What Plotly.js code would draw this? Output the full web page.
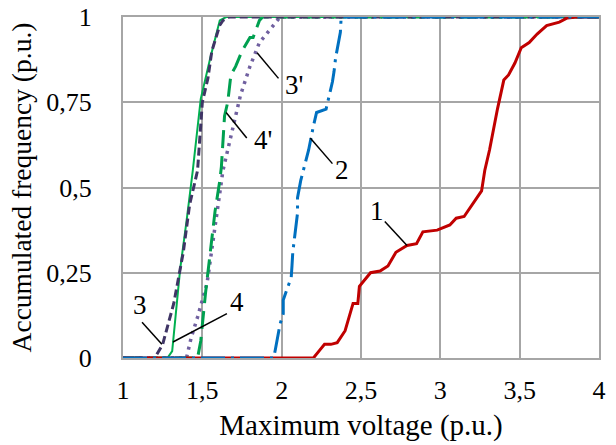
<!DOCTYPE html>
<html><head><meta charset="utf-8">
<script src="https://cdn.plot.ly/plotly-3.0.1.min.js"></script>
<style>
body{margin:0;background:#fff}
#c text{font-family:"Liberation Serif", serif !important;}
</style>
</head><body><div id="c"></div>
<script>
// Curve 1 (red solid)
const x1 = [1, 2.2, 2.24, 2.27, 2.31, 2.35, 2.40, 2.45, 2.48, 2.49, 2.56, 2.62, 2.67, 2.72, 2.79, 2.85, 2.89, 2.98, 3.06, 3.10, 3.15, 3.21, 3.26, 3.28, 3.31, 3.36, 3.40, 3.43, 3.47, 3.51, 3.56, 3.61, 3.67, 3.75, 3.80, 3.86, 4];
const y1 = [0, 0, 0.023, 0.04, 0.04, 0.045, 0.08, 0.16, 0.16, 0.21, 0.25, 0.255, 0.27, 0.31, 0.33, 0.335, 0.37, 0.375, 0.39, 0.41, 0.415, 0.455, 0.49, 0.55, 0.61, 0.73, 0.815, 0.83, 0.865, 0.91, 0.925, 0.95, 0.975, 0.985, 0.997, 1, 1];
// Curve 2 (blue dash-dot)
const x2 = [1, 1.95, 1.96, 1.99, 2.01, 2.01, 2.04, 2.06, 2.065, 2.07, 2.10, 2.10, 2.12, 2.15, 2.17, 2.20, 2.22, 2.28, 2.32, 2.33, 2.34, 2.37, 2.375, 4];
const y2 = [0, 0, 0.024, 0.10, 0.13, 0.17, 0.21, 0.235, 0.27, 0.31, 0.425, 0.47, 0.52, 0.57, 0.61, 0.68, 0.72, 0.73, 0.81, 0.84, 0.88, 0.955, 1, 1];
// Curve 3 (dark dashed)
const x3 = [1, 1.20, 1.25, 1.32, 1.38, 1.42, 1.47, 1.50, 1.535, 1.56, 1.61, 1.63, 1.67, 4];
const y3 = [0, 0, 0.04, 0.16, 0.31, 0.45, 0.55, 0.75, 0.82, 0.90, 0.976, 0.99, 1, 1];
// Curve 4 (green solid)
const x4 = [1, 1.28, 1.31, 1.36, 1.40, 1.44, 1.49, 1.55, 1.61, 1.65, 4];
const y4 = [0, 0, 0.02, 0.26, 0.40, 0.55, 0.76, 0.88, 0.99, 1, 1];
// Curve 3' (purple dotted)
const x3p = [1, 1.40, 1.43, 1.47, 1.53, 1.57, 1.61, 1.63, 1.67, 1.74, 1.80, 1.86, 1.93, 1.99, 4];
const y3p = [0, 0, 0.06, 0.12, 0.22, 0.35, 0.48, 0.55, 0.63, 0.77, 0.855, 0.925, 0.965, 1, 1];
// Curve 4' (green long dash)
const x4p = [1, 1.47, 1.49, 1.50, 1.52, 1.55, 1.58, 1.61, 1.62, 1.64, 1.66, 1.68, 1.71, 1.75, 1.80, 1.82, 1.86, 1.88, 4];
const y4p = [0, 0, 0.05, 0.1, 0.19, 0.31, 0.43, 0.52, 0.56, 0.71, 0.75, 0.83, 0.855, 0.90, 0.94, 0.94, 0.99, 1, 1];

const xTicks = [1, 1.5, 2, 2.5, 3, 3.5, 4];
const yTicks = [0, 0.25, 0.5, 0.75, 1];

// Curve labels: text, label position, leader line from / to
const labelText = ['1', '2', "3'", "4'", '3', '4'];
const labelX = [2.60, 2.38, 2.08, 1.88, 1.11, 1.72];
const labelY = [0.43, 0.55, 0.80, 0.64, 0.155, 0.165];
const lineFromX = [2.65, 2.32, 1.98, 1.78, 1.12, 1.655];
const lineFromY = [0.40, 0.57, 0.82, 0.645, 0.105, 0.13];
const lineToX = [2.79, 2.18, 1.845, 1.65, 1.245, 1.315];
const lineToY = [0.33, 0.645, 0.895, 0.72, 0.04, 0.047];

const SERIF = 'Liberation Serif';

const traces = [
  {x: x3p, y: y3p, mode: 'lines', line: {color: '#7060a0', width: 3.5, dash: '3px,5px'}},
  {x: x4p, y: y4p, mode: 'lines', line: {color: '#00a050', width: 3, dash: '18px,8px'}},
  {x: x4, y: y4, mode: 'lines', line: {color: '#00b050', width: 2}},
  {x: x3, y: y3, mode: 'lines', line: {color: '#3f3566', width: 3, dash: '8px,4px'}},
  {x: x1, y: y1, mode: 'lines', line: {color: '#c00000', width: 3}},
  {x: x2, y: y2, mode: 'lines', line: {color: '#0070c0', width: 3, dash: '24px,6px,3px,6px'}}
].map(t => Object.assign(t, {type: 'scatter', cliponaxis: false, hoverinfo: 'skip'}));

const shapes = labelText.map((t, i) => ({
  type: 'line', xref: 'x', yref: 'y',
  x0: lineFromX[i], y0: lineFromY[i], x1: lineToX[i], y1: lineToY[i],
  line: {color: '#000', width: 1.5}
}));
const annotations = labelText.map((t, i) => ({
  x: labelX[i], y: labelY[i], xref: 'x', yref: 'y', text: t, showarrow: false,
  font: {family: SERIF, size: 27, color: '#000'}
}));

const layout = {
  width: 616, height: 445,
  margin: {l: 123, r: 17, t: 17, b: 87},
  paper_bgcolor: '#fff', plot_bgcolor: '#fff',
  showlegend: false,
  separators: ', ',
  font: {family: SERIF, size: 26, color: '#000'},
  xaxis: {
    showgrid: true, gridcolor: '#a6a6a6', gridwidth: 2,
    showline: true, linecolor: '#a6a6a6', linewidth: 2, mirror: true,
    zeroline: false, ticks: '', tickfont: {family: SERIF, size: 26, color: '#000'},
    range: [1, 4], tickvals: xTicks, ticklabelstandoff: 8,
    title: {text: 'Maximum voltage (p.u.)', font: {family: SERIF, size: 29, color: '#000'}, standoff: 10}
  },
  yaxis: {
    showgrid: true, gridcolor: '#a6a6a6', gridwidth: 2,
    showline: true, linecolor: '#a6a6a6', linewidth: 2, mirror: true,
    zeroline: false, ticks: '', tickfont: {family: SERIF, size: 26, color: '#000'},
    range: [0, 1], tickvals: yTicks, ticklabelstandoff: 24,
    title: {text: 'Accumulated frequency (p.u.)', font: {family: SERIF, size: 27.5, color: '#000'}, standoff: 7}
  },
  shapes: shapes,
  annotations: annotations
};

Plotly.newPlot('c', traces, layout, {displayModeBar: false});
</script>
</body></html>
